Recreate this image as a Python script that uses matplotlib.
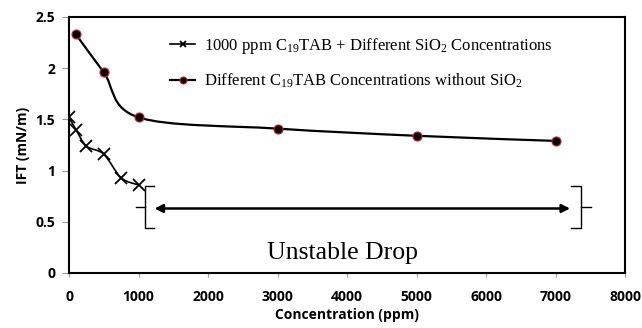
"""IFT vs concentration chart with the unstable drop region marked."""

import matplotlib.pyplot as plt
import numpy as np
from matplotlib.lines import Line2D
from matplotlib.patches import PathPatch
from matplotlib.path import Path

plt.rcParams["mathtext.fontset"] = "custom"
plt.rcParams["mathtext.rm"] = "Liberation Serif"
plt.rcParams["mathtext.it"] = "Liberation Serif:italic"
plt.rcParams["mathtext.default"] = "rm"

# series
sio2_conc = [0, 100, 250, 500, 750, 1000]
sio2_ift = [1.52, 1.40, 1.24, 1.16, 0.93, 0.86]
surf_conc = [100, 500, 1000, 3000, 5000, 7000]
surf_ift = [2.33, 1.96, 1.52, 1.41, 1.34, 1.29]

label_sio2 = r"1000 ppm C$_{19}$TAB + Different SiO$_2$ Concentrations"
label_surf = r"Different C$_{19}$TAB Concentrations without SiO$_2$"

x_ticks = [0, 1000, 2000, 3000, 4000, 5000, 6000, 7000, 8000]
y_ticks = [0, 0.5, 1, 1.5, 2, 2.5]

# unstable region: brackets and arrow
bracket_left = 1090
bracket_right = 7360
bracket_low, bracket_high, bracket_mid = 0.44, 0.85, 0.64
arrow_start, arrow_end = 1190, 7250


def smooth_path(xs, ys, sx, sy):
    """Catmull-Rom style smoothed path (like Excel smoothed lines)."""
    px = np.asarray(xs, float) / sx
    py = np.asarray(ys, float) / sy
    n = len(px)
    verts = [(px[0], py[0])]
    codes = [Path.MOVETO]
    for i in range(n - 1):
        p0 = (px[max(i - 1, 0)], py[max(i - 1, 0)])
        p1 = (px[i], py[i])
        p2 = (px[i + 1], py[i + 1])
        p3 = (px[min(i + 2, n - 1)], py[min(i + 2, n - 1)])
        c1 = (p1[0] + (p2[0] - p0[0]) / 6, p1[1] + (p2[1] - p0[1]) / 6)
        c2 = (p2[0] - (p3[0] - p1[0]) / 6, p2[1] - (p3[1] - p1[1]) / 6)
        verts += [c1, c2, p2]
        codes += [Path.CURVE4] * 3
    verts = [(vx * sx, vy * sy) for vx, vy in verts]
    return Path(verts, codes)


fig = plt.figure(figsize=(6.42, 3.28), dpi=100)
ax = fig.add_axes([69 / 642, 55 / 328, 556 / 642, 256 / 328])

sx, sy = 8000, 2.5 * 556 / 256
ax.add_patch(PathPatch(smooth_path(sio2_conc, sio2_ift, sx, sy), fill=False, color="black", lw=1.2))
ax.add_patch(PathPatch(smooth_path(surf_conc, surf_ift, sx, sy), fill=False, color="black", lw=1.6))
ax.plot(sio2_conc, sio2_ift, ls="none", marker="x", ms=8, mew=1.3, color="black")
ax.plot(surf_conc, surf_ift, ls="none", marker="o", ms=6.5, mfc="black", mec="#d02020", mew=0.8)

# brackets
br = dict(color="black", lw=1.0)
ax.plot([bracket_left + 140, bracket_left, bracket_left, bracket_left + 140],
        [bracket_high, bracket_high, bracket_low, bracket_low], **br)
ax.plot([bracket_left - 130, bracket_left], [bracket_mid, bracket_mid], **br)
ax.plot([bracket_right - 140, bracket_right, bracket_right, bracket_right - 140],
        [bracket_high, bracket_high, bracket_low, bracket_low], **br)
ax.plot([bracket_right, bracket_right + 150], [bracket_mid, bracket_mid], **br)
ax.annotate("", xy=(arrow_start, bracket_mid - 0.01), xytext=(arrow_end, bracket_mid - 0.01),
            arrowprops=dict(arrowstyle="<|-|>", color="black", lw=1.8, mutation_scale=12))
ax.text((arrow_start + arrow_end) / 2 - 280, 0.2, "Unstable Drop", family="Liberation Serif",
        fontsize=18.5, ha="center", va="center")

ax.set_xlim(0, 8000)
ax.set_ylim(0, 2.5)
ax.set_xticks(x_ticks)
ax.set_yticks(y_ticks)
ax.set_xticklabels([str(t) for t in x_ticks])
ax.set_yticklabels(["0", "0.5", "1", "1.5", "2", "2.5"])
for lab in ax.get_xticklabels() + ax.get_yticklabels():
    lab.set_fontweight("bold")
    lab.set_fontsize(10)
    lab.set_family("Open Sans")
ax.tick_params(axis="x", direction="out", length=3, width=0.8, pad=9, color="#999999")
ax.tick_params(axis="y", direction="out", length=5, width=0.8, pad=5, color="#999999")
for spine in ax.spines.values():
    spine.set_linewidth(1.5)
ax.set_xlabel("Concentration (ppm)", fontweight="bold", fontsize=10, family="Open Sans", labelpad=3)
ax.set_ylabel("IFT (mN/m)", fontweight="bold", fontsize=10, family="Open Sans", labelpad=4)

handles = [
    Line2D([], [], color="black", lw=1.2, marker="x", ms=5, mew=1.3),
    Line2D([], [], color="black", lw=1.6, marker="o", ms=5, mfc="black", mec="#d02020", mew=0.8),
]
ax.legend(handles, [label_sio2, label_surf], loc="upper left", bbox_to_anchor=(0.155, 0.985),
          frameon=False, prop={"family": "Liberation Serif", "size": 12},
          handlelength=1.5, handletextpad=0.55, labelspacing=0.95)

fig.savefig("out.png", dpi=100)
